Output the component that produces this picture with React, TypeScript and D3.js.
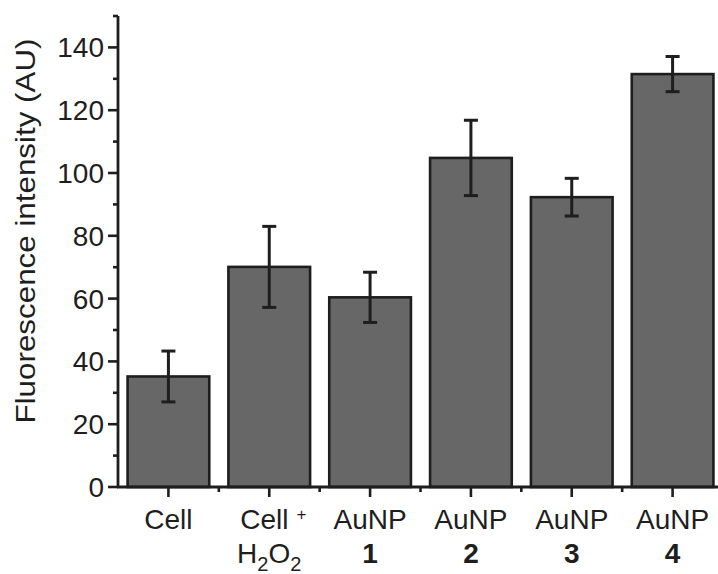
import React from "react";
import * as d3 from "d3";

const categories = ["Cell", "Cell+H2O2", "AuNP 1", "AuNP 2", "AuNP 3", "AuNP 4"];
const values = [35.2, 70.1, 60.4, 104.8, 92.3, 131.5];
const errors = [8.1, 12.9, 8.0, 12.0, 6.0, 5.6];
const majorTicks = [0, 20, 40, 60, 80, 100, 120, 140];
const minorTicks = [10, 30, 50, 70, 90, 110, 130, 150];
const yTitle = "Fluorescence intensity (AU)";

const W = 718;
const H = 574;
const x0 = 118;
const y0 = 487;

export default function App() {
  const x = d3.scaleBand<string>().domain(categories).range([x0, 723]).paddingInner(0.19).paddingOuter(0.095);
  const y = d3.scaleLinear().domain([0, 150]).range([y0, 16]);
  const step = x.step();
  const bw = x.bandwidth();
  const font = "'Liberation Sans', Arial, Helvetica, sans-serif";
  const ink = "#1e1e1e";
  const fs = 28;

  const label = (c: string, i: number) => {
    const cx = (x(c) as number) + bw / 2;
    const l1 = 529;
    const l2 = 563;
    if (i === 0) {
      return (
        <text key={c} x={cx} y={l1} textAnchor="middle">Cell</text>
      );
    }
    if (i === 1) {
      return (
        <g key={c}>
          <text x={cx + 4} y={l1} textAnchor="middle">
            Cell<tspan fontSize={17} dx={8} dy={-9}>+</tspan>
          </text>
          <text x={cx} y={l2} textAnchor="middle">
            H<tspan fontSize={20} dy={8}>2</tspan>
            <tspan dy={-8}>O</tspan>
            <tspan fontSize={20} dy={8}>2</tspan>
          </text>
        </g>
      );
    }
    const parts = c.split(" ");
    return (
      <g key={c}>
        <text x={cx} y={l1} textAnchor="middle">{parts[0]}</text>
        <text x={cx} y={l2} textAnchor="middle" fontWeight="bold">{parts[1]}</text>
      </g>
    );
  };

  return (
    <svg width={W} height={H} style={{ position: "absolute", left: 0, top: 0, background: "#fff" }}
      fontFamily={font} fontSize={fs} fill={ink}>
      {/* bars */}
      {categories.map((c, i) => (
        <rect key={c} x={x(c)} y={y(values[i])} width={bw} height={y0 - y(values[i])}
          fill="#676767" stroke={ink} strokeWidth={2.6} />
      ))}
      {/* error bars */}
      {categories.map((c, i) => {
        const cx = (x(c) as number) + bw / 2;
        const hi = y(values[i] + errors[i]);
        const lo = y(values[i] - errors[i]);
        return (
          <g key={"e" + c} stroke={ink} strokeWidth={3}>
            <line x1={cx} x2={cx} y1={hi} y2={lo} />
            <line x1={cx - 7} x2={cx + 7} y1={hi} y2={hi} />
            <line x1={cx - 7} x2={cx + 7} y1={lo} y2={lo} />
          </g>
        );
      })}
      {/* y axis */}
      <line x1={x0} x2={x0} y1={y(150)} y2={y0 + 1} stroke={ink} strokeWidth={2.8} />
      {majorTicks.map((t) => (
        <g key={"m" + t}>
          <line x1={x0 - 10} x2={x0} y1={y(t)} y2={y(t)} stroke={ink} strokeWidth={2.6} />
          <text x={x0 - 14} y={y(t)} dy="0.36em" textAnchor="end">{t}</text>
        </g>
      ))}
      {minorTicks.map((t) => (
        <line key={"n" + t} x1={x0 - 5} x2={x0} y1={y(t)} y2={y(t)} stroke={ink} strokeWidth={2.6} />
      ))}
      {/* x axis */}
      <line x1={x0 - 1} x2={W} y1={y0} y2={y0} stroke={ink} strokeWidth={2.8} />
      {categories.map((c) => {
        const cx = (x(c) as number) + bw / 2;
        return <line key={"xt" + c} x1={cx} x2={cx} y1={y0} y2={y0 + 10} stroke={ink} strokeWidth={2.6} />;
      })}
      {categories.slice(1).map((c) => {
        const bx = (x(c) as number) - (step - bw) / 2;
        return <line key={"xm" + c} x1={bx} x2={bx} y1={y0} y2={y0 + 5} stroke={ink} strokeWidth={2.6} />;
      })}
      {categories.map(label)}
      {/* y title */}
      <text transform={`translate(35,231) rotate(-90)`} textAnchor="middle"
        textLength={385} lengthAdjust="spacingAndGlyphs">{yTitle}</text>
    </svg>
  );
}
